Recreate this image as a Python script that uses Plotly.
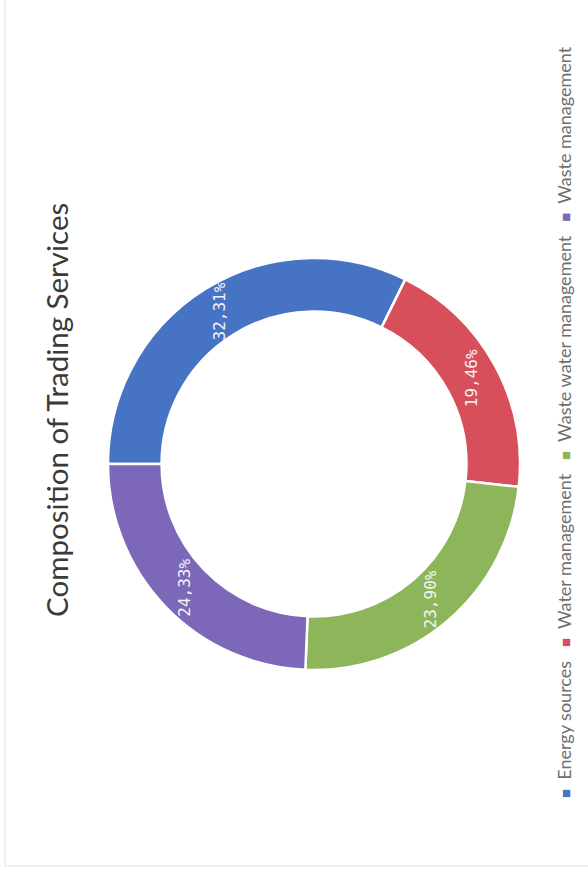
import math
import plotly.graph_objects as go

# ---- data ----
categories = ["Energy sources", "Water management", "Waste water management", "Waste management"]
values = [32.31, 19.46, 23.90, 24.33]
value_labels = ["32,31%", "19,46%", "23,90%", "24,33%"]
colors = ["#4673C4", "#D84F5C", "#8CB659", "#7C67B8"]
title_text = "Composition of Trading Services"

W, H = 588, 876
cx, cy = 314, 464          # donut centre (px)
R_out = 206                # outer radius (px)
hole = 0.74
label_r = 179              # radius of the slice labels (px)
start_deg = 270            # first slice starts at 9 o'clock, clockwise

fig = go.Figure()
fig.add_trace(go.Pie(
    labels=categories,
    values=values,
    hole=hole,
    sort=False,
    direction="clockwise",
    rotation=start_deg,
    marker=dict(colors=colors, line=dict(color="white", width=2.5)),
    textinfo="none",
    hoverinfo="label+percent",
    showlegend=False,
    domain=dict(x=[(cx - R_out) / W, (cx + R_out) / W],
                y=[1 - (cy + R_out) / H, 1 - (cy - R_out) / H]),
))

# slice labels rotated like the scanned chart
total = sum(values)
cum = 0.0
annotations = []
for v, lab in zip(values, value_labels):
    mid = start_deg + 360 * (cum + v / 2) / total
    cum += v
    th = math.radians(mid)
    px = cx + label_r * math.sin(th)
    py = cy - label_r * math.cos(th)
    annotations.append(dict(
        x=px / W, y=1 - py / H, xref="paper", yref="paper",
        text=lab, showarrow=False, textangle=-90,
        font=dict(family="DejaVu Sans Mono", size=16, color="#f4f4f4"),
        xanchor="center", yanchor="middle"))

# title (rotated)
annotations.append(dict(
    x=57 / W, y=1 - 410 / H, xref="paper", yref="paper",
    text=title_text, showarrow=False, textangle=-90,
    font=dict(family="Lato", size=29.5, color="#3a3a3a"),
    xanchor="center", yanchor="middle"))

# legend (rotated, as a single line)
gap_in = "\u00a0" * 2
gap_out = "\u00a0" * 3
parts = []
for c, name in zip(colors, categories):
    parts.append(f"<span style='color:{c};font-size:15px'>■</span>{gap_in}{name}")
legend_text = gap_out.join(parts)
annotations.append(dict(
    x=564 / W, y=1 - 422 / H, xref="paper", yref="paper",
    text=legend_text, showarrow=False, textangle=-90,
    font=dict(family="Lato", size=18, color="#6e6e6e"),
    xanchor="center", yanchor="middle"))

fig.update_layout(
    width=W, height=H,
    margin=dict(l=0, r=0, t=0, b=0),
    paper_bgcolor="white",
    plot_bgcolor="white",
    annotations=annotations,
    shapes=[dict(type="rect", xref="paper", yref="paper",
                 x0=5 / W, x1=1.01, y0=1 - 866 / H, y1=1.01,
                 line=dict(color="#ececec", width=1.5))],
)

fig.write_html("out.html",
               config={"displayModeBar": False},
               post_script="document.body.style.margin='0px';document.body.style.padding='0px';")
